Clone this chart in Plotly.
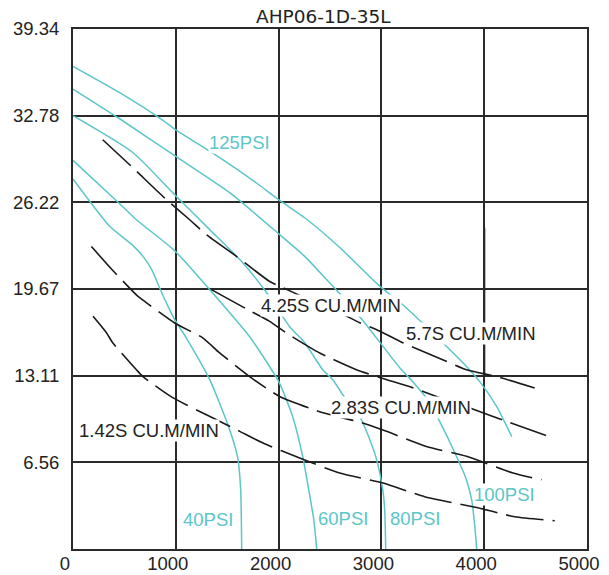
import plotly.graph_objects as go

# ---- axis ticks ----
x_ticks = [0, 1000, 2000, 3000, 4000, 5000]
y_ticks = [6.56, 13.11, 19.67, 26.22, 32.78, 39.34]
y_tick_labels = ["6.56", "13.11", "19.67", "26.22", "32.78", "39.34"]

# ---- pressure curves (teal) ----
psi125_x = [0, 454, 875, 989, 1427, 1784, 2014, 2257, 2598, 2967, 3230, 3587, 3830, 3957, 4122, 4268]
psi125_y = [36.51, 34.52, 32.43, 31.77, 29.60, 27.69, 26.35, 25.04, 22.79, 20.00, 18.33, 15.68, 13.79, 12.66, 10.77, 8.50]

psi100_x = [0, 454, 989, 1524, 2011, 2254, 2468, 2692, 2867, 3178, 3305, 3451, 3568, 3723, 3820, 3878, 3907, 3927]
psi100_y = [34.80, 32.55, 29.76, 26.96, 23.78, 22.14, 20.37, 18.48, 16.82, 13.72, 12.66, 11.30, 9.63, 7.13, 5.39, 3.73, 1.84, 0]

psi80_x = [0, 584, 989, 1330, 1651, 1884, 2108, 2254, 2429, 2527, 2643, 2789, 2906, 2954, 3013, 3032, 3042]
psi80_y = [32.78, 29.98, 26.80, 24.16, 21.66, 19.39, 16.82, 15.61, 13.56, 12.81, 11.45, 10.01, 7.89, 6.76, 4.49, 2.97, 0]

psi60_x = [0, 454, 617, 989, 1330, 1524, 1719, 2001, 2137, 2235, 2293, 2342, 2371]
psi60_y = [29.40, 26.12, 24.91, 22.57, 19.62, 17.88, 16.06, 12.66, 10.01, 6.98, 4.49, 2.22, 0]

psi40_x = [0, 357, 584, 681, 766, 843, 912, 989, 1103, 1330, 1524, 1602, 1631, 1641]
psi40_y = [27.99, 24.41, 22.95, 22.14, 21.13, 19.75, 18.56, 17.35, 15.96, 12.81, 9.03, 6.91, 4.49, 0]

# ---- flow curves (black dashed) ----
flow570_x = [289, 568, 909, 1135, 1298, 1590, 1913, 2040, 2235, 2595, 2789, 2954, 3207, 3596, 3830, 4122, 4491]
flow570_y = [30.96, 28.95, 26.43, 24.91, 23.78, 22.14, 20.24, 19.77, 19.09, 17.88, 17.12, 16.59, 15.61, 14.32, 13.56, 13.04, 12.18]

flow425_x = [1346, 1702, 1913, 2076, 2400, 2757, 2990, 3305, 3568, 3908, 4248, 4637]
flow425_y = [19.62, 18.10, 17.22, 16.34, 14.83, 13.56, 12.96, 12.20, 11.45, 10.54, 9.56, 8.50]

flow283_x = [179, 374, 632, 697, 989, 1265, 1427, 1735, 2011, 2432, 2805, 3049, 3438, 3827, 4280, 4557]
flow283_y = [22.89, 21.18, 19.11, 18.73, 17.10, 15.96, 14.83, 12.94, 11.54, 10.31, 9.56, 8.90, 7.76, 7.01, 5.75, 5.24]

flow142_x = [195, 325, 386, 617, 678, 970, 1362, 1622, 1848, 2205, 2594, 3016, 3421, 3937, 4297, 4686]
flow142_y = [17.60, 16.36, 15.61, 13.56, 13.06, 11.45, 9.91, 8.90, 8.02, 6.88, 5.75, 4.99, 3.96, 3.12, 2.44, 2.14]

# ---- labels ----
psi_labels = ["125PSI", "100PSI", "80PSI", "60PSI", "40PSI"]
psi_label_x = [1619, 4200, 3329, 2624, 1310]
psi_label_y = [30.74, 4.09, 2.29, 2.31, 2.22]

flow_labels = ["5.7S CU.M/MIN", "4.25S CU.M/MIN", "2.83S CU.M/MIN", "1.42S CU.M/MIN"]
flow_label_x = [3876, 2505, 3195, 741]
flow_label_y = [16.34, 18.42, 10.67, 8.96]

title_text = "AHP06-1D-35L"

TEAL = "#5cc6c8"
FONT = "Liberation Sans, Arial, sans-serif"
FS = 18.5

fig = go.Figure()

psi_series = [(psi125_x, psi125_y, "125PSI"), (psi100_x, psi100_y, "100PSI"),
              (psi80_x, psi80_y, "80PSI"), (psi60_x, psi60_y, "60PSI"),
              (psi40_x, psi40_y, "40PSI")]
for xs, ys, nm in psi_series:
    fig.add_trace(go.Scatter(x=xs, y=ys, mode="lines", name=nm,
                             line=dict(color=TEAL, width=1.5, shape="spline", smoothing=0.6)))

flow_series = [(flow570_x, flow570_y, "5.7S"), (flow425_x, flow425_y, "4.25S"),
               (flow283_x, flow283_y, "2.83S"), (flow142_x, flow142_y, "1.42S")]
for xs, ys, nm in flow_series:
    fig.add_trace(go.Scatter(x=xs, y=ys, mode="lines", name=nm,
                             line=dict(color="#1a1a1a", width=1.6, dash="38px,9px",
                                       shape="spline", smoothing=0.6)))

for t, x, y in zip(psi_labels, psi_label_x, psi_label_y):
    fig.add_annotation(x=x, y=y, text=t, showarrow=False, bgcolor="white",
                       borderpad=0, font=dict(family=FONT, size=FS, color=TEAL))
for t, x, y in zip(flow_labels, flow_label_x, flow_label_y):
    fig.add_annotation(x=x, y=y, text=t, showarrow=False, bgcolor="white",
                       borderpad=0, font=dict(family=FONT, size=FS, color="#222222"))

fig.add_annotation(xref="paper", yref="paper", x=0.4883, y=1.0244, text=title_text,
                   showarrow=False, yanchor="middle", borderpad=0,
                   font=dict(family="DejaVu Sans, sans-serif", size=18.5, color="#222222"))

# darker segment of the 4000 gridline seen in the original drawing
fig.add_shape(type="line", xref="x", yref="y", x0=4000, x1=4000, y0=13.11, y1=24.3,
              line=dict(color="#1a1a1a", width=2.2), layer="below")

fig.update_layout(
    width=609, height=575,
    margin=dict(l=73, r=22, t=29, b=26, autoexpand=False),
    paper_bgcolor="white", plot_bgcolor="white",
    showlegend=False,
    font=dict(family=FONT, size=FS, color="#222222"),
)
fig.update_xaxes(range=[0, 5000], tickvals=x_ticks, showgrid=True, gridcolor="#2a2a2a",
                 gridwidth=1.6, zeroline=False, showline=True, linecolor="#2a2a2a",
                 linewidth=2, mirror=True, ticks="", ticklabelshift=-8, automargin=False,
                 ticklabelstandoff=-3, tickfont=dict(family=FONT, size=FS, color="#222222"))
fig.update_yaxes(range=[0, 39.34], tickvals=y_ticks, ticktext=y_tick_labels, showgrid=True,
                 gridcolor="#2a2a2a", gridwidth=1.6, zeroline=False, showline=True,
                 linecolor="#2a2a2a", linewidth=2, mirror=True, ticks="", automargin=False,
                 ticklabelstandoff=8, tickfont=dict(family=FONT, size=FS, color="#222222"))

fig.write_html("out.html", config={"displayModeBar": False},
               post_script="document.body.style.margin='0px';")
